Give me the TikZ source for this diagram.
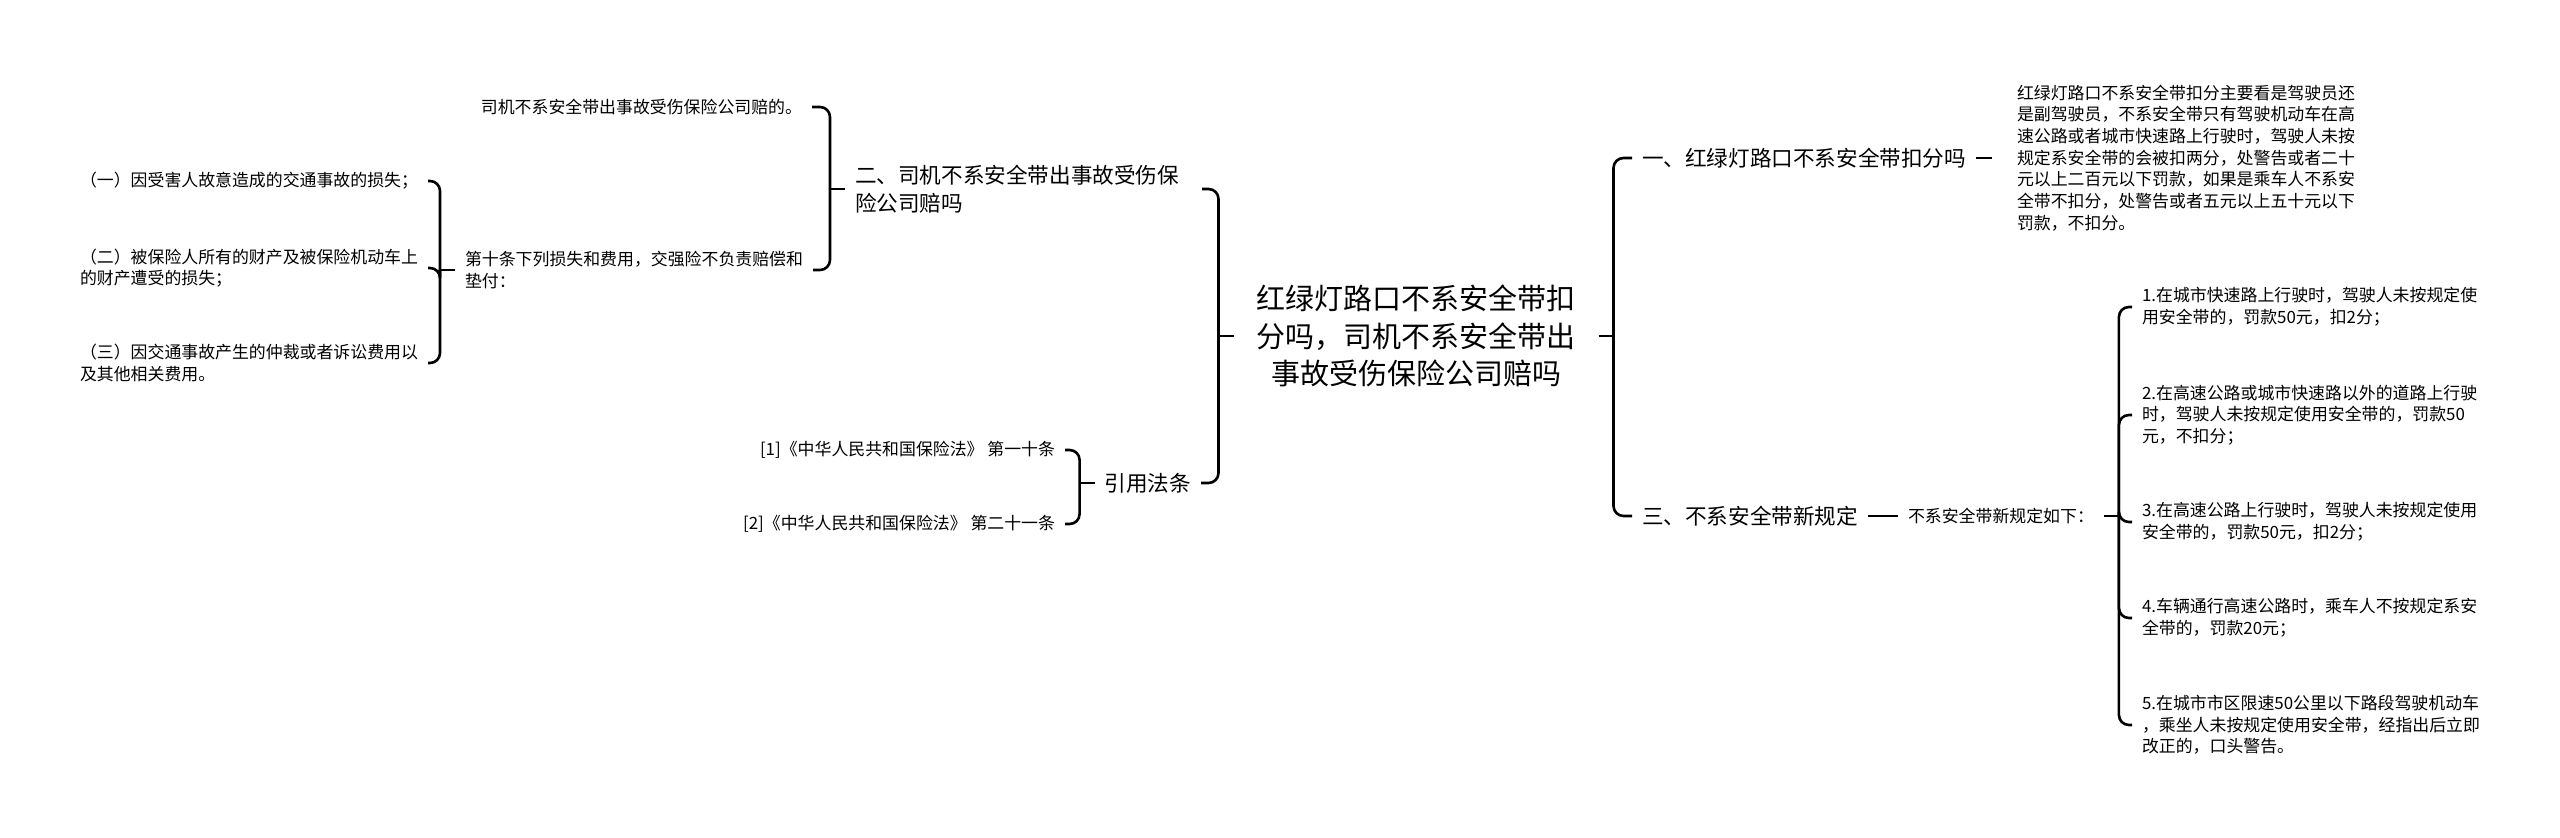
\documentclass[tikz,border=0pt]{standalone}
\usepackage{fontspec}
\setmainfont{Noto Sans CJK SC}
\begin{document}
\begin{tikzpicture}[x=0.5pt, y=-0.5pt, line width=1.3pt,
  every node/.style={inner sep=0pt, outer xsep=5pt, outer ysep=0pt},
  central/.style={font=\fontsize{14.5}{18.7}\selectfont, align=center, outer xsep=11.5pt},
  branch/.style={font=\fontsize{10.8}{14}\selectfont, align=left},
  leaf/.style={font=\fontsize{8.45}{10.85}\selectfont, align=left},
  link/.style={rounded corners=5pt}]
  \useasboundingbox (0,0) rectangle (2560,838);
  \node[central] (root) at (1416,336) {红绿灯路口不系安全带扣\\分吗，司机不系安全带出\\事故受伤保险公司赔吗};
  \node[branch, anchor=west, text width=168.5pt] (q2) at (845,189) {二、司机不系安全带出事故受伤保\\险公司赔吗};
  \node[branch, anchor=east] (laws) at (1201,483) {引用法条};
  \node[leaf, anchor=east] (reply) at (812,107) {司机不系安全带出事故受伤保险公司赔的。};
  \node[leaf, anchor=east] (clause) at (813,270) {第十条下列损失和费用，交强险不负责赔偿和\\垫付：};
  \node[leaf, anchor=east] (ex1) at (428,181) {（一）因受害人故意造成的交通事故的损失；};
  \node[leaf, anchor=east] (ex2) at (428,268) {（二）被保险人所有的财产及被保险机动车上\\的财产遭受的损失；};
  \node[leaf, anchor=east] (ex3) at (428,363) {（三）因交通事故产生的仲裁或者诉讼费用以\\及其他相关费用。};
  \node[leaf, anchor=east] (law1) at (1065,450) {[1]《中华人民共和国保险法》 第一十条};
  \node[leaf, anchor=east] (law2) at (1065,524) {[2]《中华人民共和国保险法》 第二十一条};
  \node[branch, anchor=west] (q1) at (1632,158) {一、红绿灯路口不系安全带扣分吗};
  \node[leaf, anchor=west, outer xsep=12.5pt] (q1text) at (1992,158) {红绿灯路口不系安全带扣分主要看是驾驶员还\\是副驾驶员，不系安全带只有驾驶机动车在高\\速公路或者城市快速路上行驶时，驾驶人未按\\规定系安全带的会被扣两分，处警告或者二十\\元以上二百元以下罚款，如果是乘车人不系安\\全带不扣分，处警告或者五元以上五十元以下\\罚款，不扣分。};
  \node[branch, anchor=west] (q3) at (1632,516) {三、不系安全带新规定};
  \node[leaf, anchor=west] (rules) at (1898,516) {不系安全带新规定如下：};
  \node[leaf, anchor=west] (r1) at (2132,307) {1.在城市快速路上行驶时，驾驶人未按规定使\\用安全带的，罚款50元，扣2分；};
  \node[leaf, anchor=west] (r2) at (2132,415) {2.在高速公路或城市快速路以外的道路上行驶\\时，驾驶人未按规定使用安全带的，罚款50\\元，不扣分；};
  \node[leaf, anchor=west] (r3) at (2132,522) {3.在高速公路上行驶时，驾驶人未按规定使用\\安全带的，罚款50元，扣2分；};
  \node[leaf, anchor=west] (r4) at (2132,618) {4.车辆通行高速公路时，乘车人不按规定系安\\全带的，罚款20元；};
  \node[leaf, anchor=west] (r5) at (2132,725) {5.在城市市区限速50公里以下路段驾驶机动车\\，乘坐人未按规定使用安全带，经指出后立即\\改正的，口头警告。};
  % left side
  \draw (root.west) -- ++(-7.5pt,0) coordinate (rootL);
  \draw[link] (rootL) |- (q2.east);
  \draw[link] (rootL) |- (laws.east);
  \draw (q2.west) -- ++(-7.5pt,0) coordinate (q2L);
  \draw[link] (q2L) |- (reply.east);
  \draw[link] (q2L) |- (clause.east);
  \draw (clause.west) -- ++(-7.5pt,0) coordinate (clauseL);
  \draw[link] (clauseL) |- (ex1.east);
  \draw[link] (clauseL) |- (ex2.east);
  \draw[link] (clauseL) |- (ex3.east);
  \draw (laws.west) -- ++(-7.5pt,0) coordinate (lawsL);
  \draw[link] (lawsL) |- (law1.east);
  \draw[link] (lawsL) |- (law2.east);
  % right side
  \draw (root.east) -- ++(7.5pt,0) coordinate (rootR);
  \draw[link] (rootR) |- (q1.west);
  \draw[link] (rootR) |- (q3.west);
  \draw (q1.east) -- (q1text.west);
  \draw (q3.east) -- (rules.west);
  \draw (rules.east) -- ++(7.5pt,0) coordinate (rulesR);
  \draw[link] (rulesR) |- (r1.west);
  \draw[link] (rulesR) |- (r2.west);
  \draw[link] (rulesR) |- (r3.west);
  \draw[link] (rulesR) |- (r4.west);
  \draw[link] (rulesR) |- (r5.west);
\end{tikzpicture}
\end{document}
